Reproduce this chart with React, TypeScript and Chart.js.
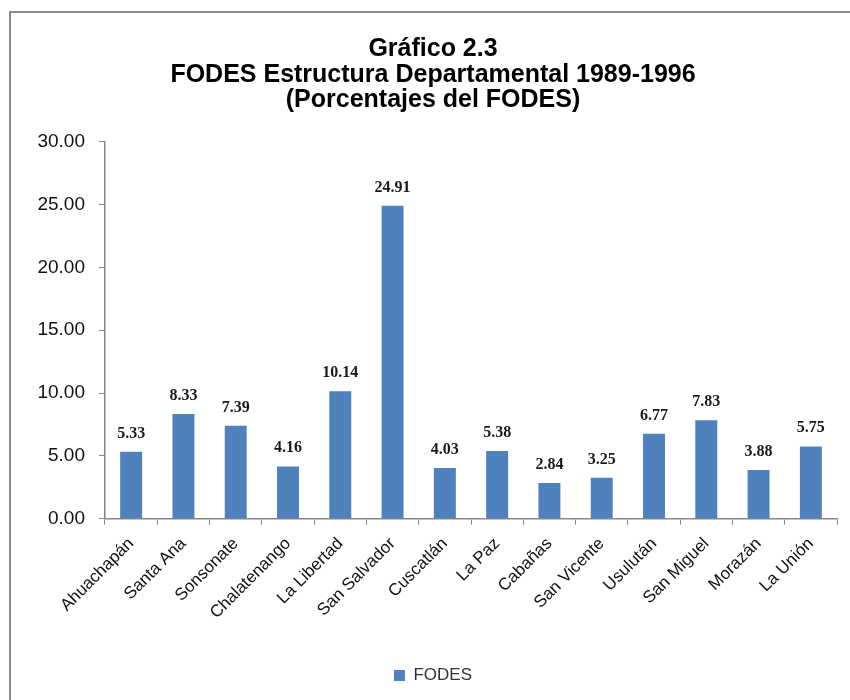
import React, { useEffect, useRef } from "react";
import { Chart, registerables } from "chart.js";

Chart.register(...registerables);

const categories = [
  "Ahuachapán",
  "Santa Ana",
  "Sonsonate",
  "Chalatenango",
  "La Libertad",
  "San Salvador",
  "Cuscatlán",
  "La Paz",
  "Cabañas",
  "San Vicente",
  "Usulután",
  "San Miguel",
  "Morazán",
  "La Unión",
];
const fodesValues = [5.33, 8.33, 7.39, 4.16, 10.14, 24.91, 4.03, 5.38, 2.84, 3.25, 6.77, 7.83, 3.88, 5.75];
const seriesName = "FODES";
const titleLines = [
  "Gráfico 2.3",
  "FODES Estructura Departamental 1989-1996",
  "(Porcentajes del FODES)",
];
const yMin = 0;
const yMax = 30;
const yStep = 5;

const dataLabelPlugin = {
  id: "dataLabels",
  afterDatasetsDraw(chart: any) {
    const ctx = chart.ctx;
    const meta = chart.getDatasetMeta(0);
    ctx.save();
    ctx.font = "bold 16px 'Liberation Serif'";
    ctx.fillStyle = "#1a1a1a";
    ctx.textAlign = "center";
    ctx.textBaseline = "alphabetic";
    meta.data.forEach((bar: any, i: number) => {
      const v = chart.data.datasets[0].data[i] as number;
      ctx.fillText(v.toFixed(2), bar.x, bar.y - 14);
    });
    ctx.restore();
  },
};

export default function App() {
  const ref = useRef<HTMLCanvasElement | null>(null);

  useEffect(() => {
    if (!ref.current) return;
    const chart = new Chart(ref.current, {
      type: "bar",
      data: {
        labels: categories,
        datasets: [
          {
            label: seriesName,
            data: fodesValues,
            backgroundColor: "#4F81BD",
            borderWidth: 0,
            barPercentage: 0.42,
            categoryPercentage: 1,
          },
        ],
      },
      options: {
        responsive: false,
        animation: false,
        layout: { padding: { left: 16, right: 0, top: 0, bottom: 6 } },
        plugins: {
          title: {
            display: true,
            text: titleLines,
            color: "#000",
            font: { family: "'Liberation Sans', Arial", size: 25, weight: "bold", lineHeight: 1.03 },
            padding: { top: 36, bottom: 28.5 },
          },
          legend: {
            display: true,
            position: "bottom",
            labels: {
              boxWidth: 11,
              boxHeight: 11,
              padding: 6,
              color: "#333",
              font: { family: "'Liberation Sans', Arial", size: 17 },
            },
          },
          tooltip: { enabled: false },
        },
        scales: {
          x: {
            grid: {
              display: true,
              drawOnChartArea: false,
              drawTicks: true,
              tickLength: 6,
              color: "#868686",
              offset: true,
            },
            border: { display: true, color: "#868686", width: 1.5 },
            ticks: {
              color: "#111",
              font: { family: "'Liberation Sans', Arial", size: 17 },
              maxRotation: 45,
              minRotation: 45,
              padding: 9,
              autoSkip: false,
            },
            afterFit(s: any) {
              s.height = 142.3;
              s.paddingRight = 13;
            },
          },
          y: {
            min: yMin,
            max: yMax,
            grid: {
              display: true,
              drawOnChartArea: false,
              drawTicks: true,
              tickLength: 6,
              color: "#868686",
            },
            border: { display: true, color: "#868686", width: 1.5 },
            ticks: {
              stepSize: yStep,
              color: "#111",
              font: { family: "'Liberation Sans', Arial", size: 19 },
              padding: 14,
              callback: (v: any) => Number(v).toFixed(2),
            },
            afterFit(s: any) {
              s.width = 89;
            },
          },
        },
      },
      plugins: [dataLabelPlugin],
    });
    return () => chart.destroy();
  }, []);

  return (
    <div
      style={{
        position: "fixed",
        left: 0,
        top: 0,
        width: 850,
        height: 700,
        overflow: "hidden",
        background: "#fff",
      }}
    >
      <div
        style={{
          position: "absolute",
          left: 9,
          top: 11,
          width: 900,
          height: 760,
          border: "2px solid #8a8a8a",
          boxSizing: "border-box",
        }}
      />
      <canvas
        ref={ref}
        width={850}
        height={700}
        style={{ position: "absolute", left: 0, top: 0, width: 850, height: 700 }}
      />
    </div>
  );
}
